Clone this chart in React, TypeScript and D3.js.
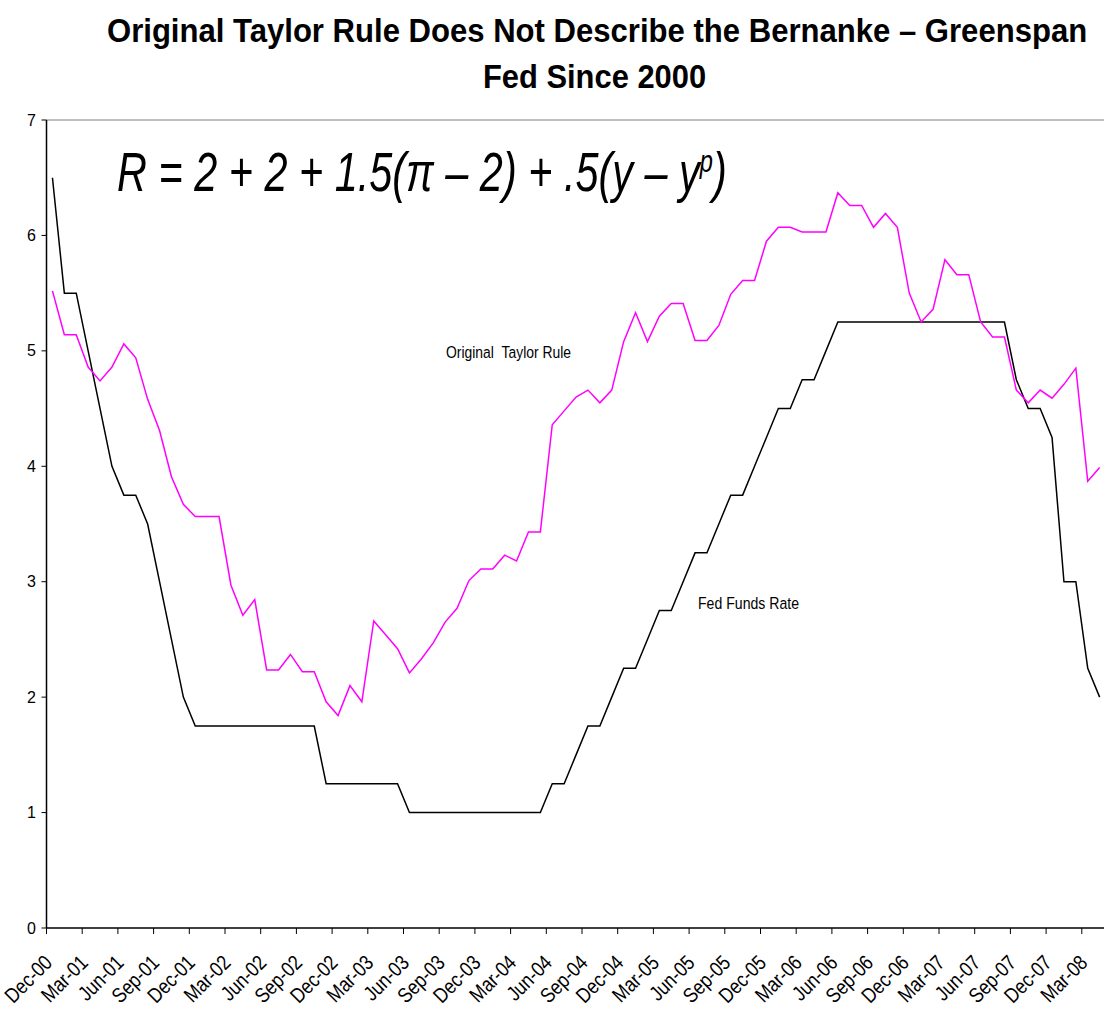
import React, { useLayoutEffect, useRef, useState } from "react";
import * as d3 from "d3";

const months: string[] = d3
  .timeMonth.range(new Date(2000, 11, 1), new Date(2008, 4, 1))
  .map((d) => d3.timeFormat("%b-%y")(d));

const taylorRule: number[] = [
  5.52, 5.14, 5.14, 4.86, 4.74, 4.86, 5.06, 4.94, 4.58, 4.31, 3.91, 3.67,
  3.565, 3.565, 3.565, 2.97, 2.71, 2.845, 2.236, 2.236, 2.37, 2.22, 2.22, 1.96,
  1.84, 2.1, 1.96, 2.66, 2.54, 2.42, 2.21, 2.33, 2.47, 2.65, 2.77, 3.01,
  3.11, 3.11, 3.23, 3.18, 3.43, 3.43, 4.36, 4.48, 4.6, 4.66, 4.55, 4.66,
  5.08, 5.33, 5.08, 5.3, 5.41, 5.41, 5.09, 5.09, 5.22, 5.49, 5.61, 5.61,
  5.95, 6.07, 6.07, 6.03, 6.03, 6.03, 6.37, 6.26, 6.26, 6.07, 6.19, 6.07,
  5.5, 5.25, 5.36, 5.79, 5.66, 5.66, 5.25, 5.12, 5.12, 4.66, 4.55, 4.66,
  4.59, 4.71, 4.85, 3.87, 3.99,
];

const fedFunds: number[] = [
  6.5, 5.5, 5.5, 5.0, 4.5, 4.0, 3.75, 3.75, 3.5, 3.0, 2.5, 2.0,
  1.75, 1.75, 1.75, 1.75, 1.75, 1.75, 1.75, 1.75, 1.75, 1.75, 1.75, 1.25,
  1.25, 1.25, 1.25, 1.25, 1.25, 1.25, 1.0, 1.0, 1.0, 1.0, 1.0, 1.0,
  1.0, 1.0, 1.0, 1.0, 1.0, 1.0, 1.25, 1.25, 1.5, 1.75, 1.75, 2.0,
  2.25, 2.25, 2.5, 2.75, 2.75, 3.0, 3.25, 3.25, 3.5, 3.75, 3.75, 4.0,
  4.25, 4.5, 4.5, 4.75, 4.75, 5.0, 5.25, 5.25, 5.25, 5.25, 5.25, 5.25,
  5.25, 5.25, 5.25, 5.25, 5.25, 5.25, 5.25, 5.25, 5.25, 4.75, 4.5, 4.5,
  4.25, 3.0, 3.0, 2.25, 2.0,
];

const yTicks: number[] = [0, 1, 2, 3, 4, 5, 6, 7];
const titleLines: string[] = [
  "Original Taylor Rule Does Not Describe the Bernanke \u2013 Greenspan",
  "Fed Since 2000",
];
const formulaParts: string[] = ["R = 2 + 2 + 1.5(\u03c0 \u2013 2) + .5(y \u2013 y", "p", ")"];

const W = 1104;
const H = 1015;
const left = 46.5;
const step = 11.9;
const top = 120;
const bottom = 928;
const sans = "'Liberation Sans', Arial, sans-serif";

function FitText(props: {
  x: number;
  y: number;
  width: number;
  fontSize: number;
  bold?: boolean;
  children: string;
}) {
  const ref = useRef<SVGTextElement>(null);
  const [sx, setSx] = useState(0.9);
  useLayoutEffect(() => {
    if (ref.current) {
      const w = ref.current.getComputedTextLength();
      if (w > 0) setSx(props.width / w);
    }
  }, [props.width, props.children]);
  return (
    <g transform={`translate(${props.x},${props.y}) scale(${sx},1)`}>
      <text
        ref={ref}
        x={0}
        y={0}
        fontFamily={sans}
        fontWeight={props.bold ? "bold" : "normal"}
        fontSize={props.fontSize}
      >
        {props.children}
      </text>
    </g>
  );
}

export default function App() {
  const x = d3
    .scaleBand<number>()
    .domain(months.map((_, i) => i))
    .range([left, left + months.length * step])
    .paddingInner(0)
    .paddingOuter(0);
  const bw = x.bandwidth();
  const cx = (i: number) => (x(i) as number) + bw / 2;
  const y = d3.scaleLinear().domain([0, 7]).range([bottom, top]);

  const line = d3
    .line<number>()
    .x((_, i) => cx(i))
    .y((d) => y(d));

  const tickIdx = months.map((_, i) => i).filter((i) => i % 3 === 0);
  const right = left + months.length * step;

  return (
    <svg
      width={W}
      height={H}
      style={{ position: "absolute", left: 0, top: 0, background: "#fff" }}
    >
      <rect x={0} y={0} width={W} height={H} fill="#fff" />
      {/* title */}
      <FitText x={107} y={42} width={980} fontSize={34} bold>
        {titleLines[0]}
      </FitText>
      <FitText x={483} y={88} width={223} fontSize={34} bold>
        {titleLines[1]}
      </FitText>

      {/* plot border */}
      <line x1={left} x2={right} y1={y(7)} y2={y(7)} stroke="#808080" strokeWidth={1} />
      <line x1={right} x2={right} y1={y(7)} y2={y(0)} stroke="#808080" strokeWidth={1} />

      {/* y axis */}
      <line x1={left} x2={left} y1={y(7)} y2={y(0)} stroke="#000" strokeWidth={1.5} />
      {yTicks.map((t) => (
        <g key={t}>
          <line x1={left - 5} x2={left} y1={y(t)} y2={y(t)} stroke="#000" strokeWidth={1} />
          <text
            x={36}
            y={y(t)}
            dy="0.35em"
            textAnchor="end"
            fontFamily={sans}
            fontSize={16}
          >
            {t}
          </text>
        </g>
      ))}

      {/* x axis */}
      <line x1={left} x2={right} y1={y(0)} y2={y(0)} stroke="#000" strokeWidth={1.5} />
      {tickIdx.map((i) => (
        <g key={i}>
          <line
            x1={x(i) as number}
            x2={x(i) as number}
            y1={y(0)}
            y2={y(0) + 6}
            stroke="#000"
            strokeWidth={1}
          />
          <text
            transform={`translate(${cx(i) + 1},${964}) rotate(-45) scale(0.84,1)`}
            textAnchor="end"
            fontFamily={sans}
            fontSize={21}
          >
            {months[i]}
          </text>
        </g>
      ))}

      {/* series */}
      <path d={line(fedFunds) || ""} fill="none" stroke="#000" strokeWidth={1.5} />
      <path d={line(taylorRule) || ""} fill="none" stroke="#ff00ff" strokeWidth={1.5} />

      {/* annotations */}
      <FitText x={446} y={358} width={125} fontSize={17}>
        {"Original\u00a0\u00a0Taylor Rule"}
      </FitText>
      <FitText x={698} y={609} width={101} fontSize={17}>
        Fed Funds Rate
      </FitText>

      {/* formula */}
      <g transform="translate(117,191) scale(0.74,1)">
        <text x={0} y={0} fontFamily={sans} fontStyle="italic" fontSize={56}>
          <tspan>{formulaParts[0]}</tspan>
          <tspan fontSize={32} dy={-19}>
            {formulaParts[1]}
          </tspan>
          <tspan dy={19}>{formulaParts[2]}</tspan>
        </text>
      </g>
    </svg>
  );
}
